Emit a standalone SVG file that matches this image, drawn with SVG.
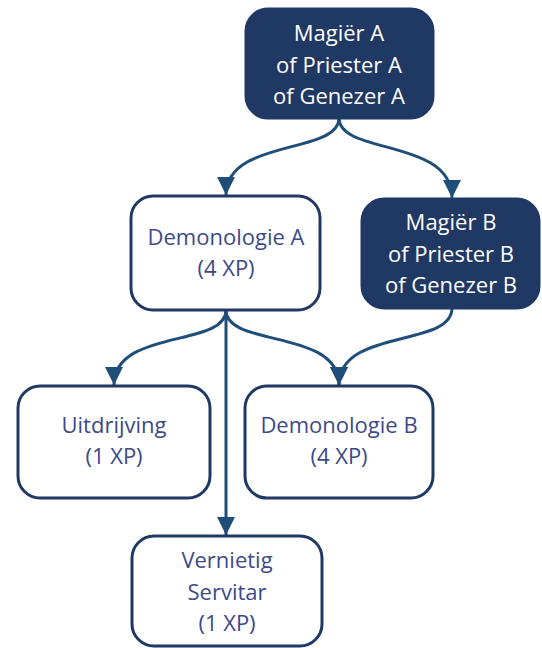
<svg xmlns="http://www.w3.org/2000/svg" width="542" height="648" viewBox="0 0 542 648">
  <defs>
    <marker id="arrow" markerUnits="userSpaceOnUse" markerWidth="20" markerHeight="20" refX="18" refY="9" orient="auto">
      <path d="M0,0 L18,9 L0,18 Z" fill="#1f4e79"/>
    </marker>
    <style>
      .box { fill: #ffffff; stroke: #1f3864; stroke-width: 3; }
      .dark { fill: #1f3864; stroke: #1f3864; stroke-width: 3; }
      .lbl { font-family: "Open Sans", "Liberation Sans", sans-serif; font-size: 22px; text-anchor: middle; fill: #3c4a8a; }
      .lbl-w { font-family: "Open Sans", "Liberation Sans", sans-serif; font-size: 22px; text-anchor: middle; fill: #ffffff; }
      .link { fill: none; stroke: #1f4e79; stroke-width: 3; }
    </style>
  </defs>
  <rect width="542" height="648" fill="#ffffff"/>

  <g id="connectors">
    <path class="link" marker-end="url(#arrow)" d="M339,118 C339,155 226,138 226,195"/>
    <path class="link" marker-end="url(#arrow)" d="M339,118 C339,155 452,138 452,198"/>
    <path class="link" marker-end="url(#arrow)" d="M226,310 C226,348 114,328 114,385"/>
    <path class="link" marker-end="url(#arrow)" d="M226,310 L226,535"/>
    <path class="link" marker-end="url(#arrow)" d="M226,310 C226,348 339,328 339,385"/>
    <path class="link" marker-end="url(#arrow)" d="M452,308 C452,348 339,328 339,385"/>
  </g>

  <g id="magier-a">
    <rect class="dark" x="246" y="9" width="187" height="109" rx="22"/>
    <text class="lbl-w" x="339" y="41">Magiër A</text>
    <text class="lbl-w" x="339" y="73">of Priester A</text>
    <text class="lbl-w" x="339" y="104">of Genezer A</text>
  </g>

  <g id="demonologie-a">
    <rect class="box" x="131" y="196" width="189" height="114" rx="22"/>
    <text class="lbl" x="226" y="245">Demonologie A</text>
    <text class="lbl" x="226" y="276">(4 XP)</text>
  </g>

  <g id="magier-b">
    <rect class="dark" x="362" y="199" width="177" height="109" rx="22"/>
    <text class="lbl-w" x="451" y="230">Magiër B</text>
    <text class="lbl-w" x="451" y="262">of Priester B</text>
    <text class="lbl-w" x="451" y="293">of Genezer B</text>
  </g>

  <g id="uitdrijving">
    <rect class="box" x="18" y="386" width="192" height="112" rx="22"/>
    <text class="lbl" x="114" y="433">Uitdrijving</text>
    <text class="lbl" x="114" y="464">(1 XP)</text>
  </g>

  <g id="demonologie-b">
    <rect class="box" x="245" y="386" width="188" height="112" rx="22"/>
    <text class="lbl" x="339" y="433">Demonologie B</text>
    <text class="lbl" x="339" y="464">(4 XP)</text>
  </g>

  <g id="vernietig-servitar">
    <rect class="box" x="132" y="536" width="190" height="110" rx="22"/>
    <text class="lbl" x="227" y="568">Vernietig</text>
    <text class="lbl" x="227" y="600">Servitar</text>
    <text class="lbl" x="227" y="631">(1 XP)</text>
  </g>
</svg>
